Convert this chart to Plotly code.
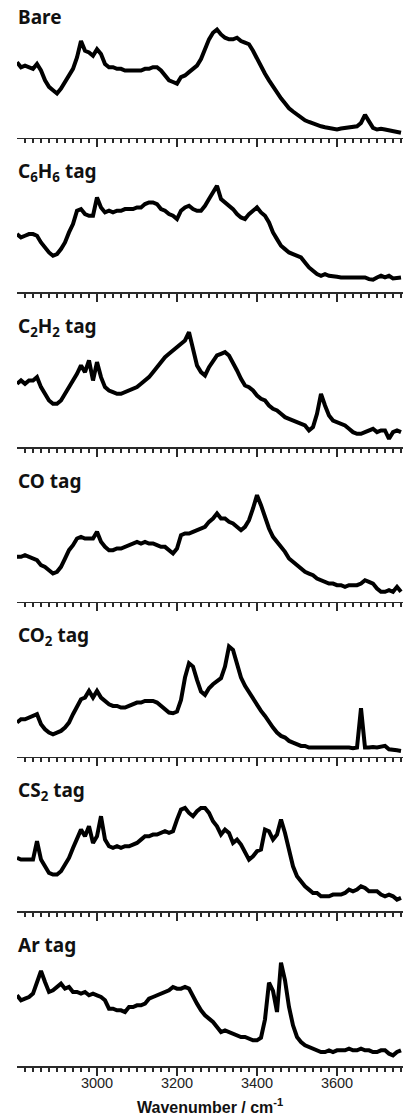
import plotly.graph_objects as go

# Wavenumber grid (cm^-1), 10 cm^-1 sampling
wavenumber = list(range(2800, 3761, 10))

# Intensities (arbitrary units, height above each panel's axis)
bare = [
    230, 215, 220, 215, 210, 225, 205, 175, 155, 145,
    135, 150, 170, 185, 210, 245, 295, 265, 260, 250,
    270, 255, 225, 215, 215, 210, 210, 205, 205, 205,
    205, 205, 210, 210, 215, 215, 205, 190, 175, 170,
    165, 185, 190, 200, 210, 220, 240, 270, 300, 320,
    330, 315, 305, 300, 300, 305, 295, 290, 285, 265,
    240, 215, 195, 175, 155, 135, 120, 105, 90, 80,
    70, 60, 53, 48, 43, 38, 35, 32, 30, 28,
    25, 28, 30, 32, 32, 35, 45, 70, 50, 30,
    25, 27, 25, 22, 18, 15, 15,
]
c6h6 = [
    175, 165, 170, 175, 175, 170, 150, 135, 120, 110,
    115, 130, 150, 180, 205, 245, 250, 235, 230, 230,
    285, 255, 240, 245, 240, 245, 245, 250, 250, 250,
    255, 255, 265, 270, 270, 265, 250, 245, 235, 230,
    220, 245, 255, 260, 250, 245, 245, 260, 280, 300,
    320, 280, 270, 260, 250, 235, 225, 220, 235, 245,
    255, 240, 230, 210, 180, 160, 140, 130, 120, 115,
    110, 105, 90, 75, 65, 55, 50, 55, 50, 50,
    47, 45, 45, 45, 45, 47, 45, 45, 40, 38,
    45, 50, 45, 50, 42, 45, 45,
]
c2h2 = [
    190, 200, 190, 200, 200, 210, 180, 160, 140, 130,
    130, 140, 160, 175, 195, 220, 245, 225, 260, 200,
    255, 210, 180, 170, 165, 160, 160, 165, 170, 175,
    180, 190, 200, 210, 225, 240, 255, 270, 280, 290,
    300, 310, 320, 345, 290, 245, 225, 215, 240, 260,
    275, 280, 285, 275, 255, 230, 205, 185, 180, 170,
    155, 145, 140, 125, 115, 110, 100, 90, 85, 80,
    75, 70, 65, 50, 60, 100, 160, 125, 95, 80,
    75, 70, 65, 55, 45, 40, 40, 45, 50, 55,
    45, 50, 50, 25, 45, 50, 45,
]
co = [
    135, 135, 140, 135, 130, 125, 110, 105, 95, 85,
    90, 105, 130, 155, 170, 190, 195, 190, 190, 190,
    210, 180, 165, 155, 155, 160, 160, 165, 170, 175,
    180, 175, 180, 175, 175, 170, 165, 165, 155, 145,
    160, 200, 205, 205, 210, 215, 220, 225, 240, 250,
    265, 250, 250, 240, 235, 225, 215, 225, 245, 280,
    320, 290, 250, 220, 195, 180, 165, 150, 130, 120,
    110, 100, 90, 85, 80, 70, 65, 60, 55, 55,
    50, 50, 45, 50, 50, 50, 55, 65, 60, 55,
    40, 30, 30, 35, 30, 45, 30,
]
co2 = [
    102, 112, 112, 117, 122, 127, 97, 82, 72, 67,
    72, 77, 87, 102, 127, 152, 172, 177, 197, 177,
    197, 177, 167, 157, 152, 152, 147, 147, 152, 157,
    162, 162, 167, 167, 167, 162, 152, 142, 132, 130,
    135, 170, 237, 280, 270, 230, 195, 185, 205, 217,
    225, 235, 270, 330, 320, 280, 237, 212, 192, 177,
    157, 137, 122, 102, 87, 72, 62, 57, 47, 42,
    37, 32, 32, 27, 27, 27, 27, 27, 27, 29,
    27, 27, 29, 27, 25, 27, 145, 27, 27, 29,
    27, 29, 32, 22, 22, 19, 17,
]
cs2 = [
    160, 155, 155, 155, 155, 210, 155, 135, 115, 110,
    110, 120, 140, 160, 190, 215, 245, 225, 255, 205,
    225, 285, 215, 195, 190, 195, 190, 195, 195, 200,
    205, 215, 225, 225, 230, 230, 235, 240, 235, 240,
    275, 305, 310, 295, 285, 300, 310, 310, 295, 270,
    255, 230, 245, 235, 205, 215, 200, 180, 155, 165,
    180, 185, 245, 240, 215, 230, 275, 235, 185, 135,
    105, 90, 75, 65, 55, 55, 45, 45, 45, 50,
    50, 50, 55, 65, 60, 65, 75, 70, 60, 60,
    60, 50, 45, 50, 45, 35, 40,
]
ar = [
    212, 197, 202, 207, 217, 247, 285, 252, 222, 227,
    237, 247, 232, 237, 222, 222, 217, 222, 212, 217,
    212, 207, 197, 172, 172, 167, 167, 162, 177, 177,
    182, 182, 187, 202, 207, 212, 217, 222, 227, 237,
    232, 232, 237, 232, 207, 187, 167, 152, 142, 132,
    117, 102, 107, 102, 97, 92, 87, 87, 82, 77,
    77, 85, 140, 250, 225, 162, 310, 257, 177, 122,
    87, 72, 62, 57, 52, 47, 42, 42, 47, 42,
    47, 47, 47, 52, 47, 47, 52, 47, 47, 42,
    42, 47, 47, 37, 32, 42, 47,
]

labels = [
    "Bare",
    "C<sub>6</sub>H<sub>6</sub> tag",
    "C<sub>2</sub>H<sub>2</sub> tag",
    "CO tag",
    "CO<sub>2</sub> tag",
    "CS<sub>2</sub> tag",
    "Ar tag",
]
series = [bare, c6h6, c2h2, co, co2, cs2, ar]

label_ticks = [3000, 3200, 3400, 3600]
label_text = ["3000", "3200", "3400", "3600"]
mid_ticks = [2900, 3100, 3300, 3500, 3700]
minor_ticks = [v for v in range(2820, 3761, 20) if v % 200 != 0]

for s in series:
    assert len(s) == len(wavenumber), len(s)

W, H = 408, 1117
ML, MR, MT = 17, 5, 0
first_axis_px = 137.7
last_axis_px = 1065.7
PH = last_axis_px                # plot area height (bottom panel axis at paper y=0)
MB = H - MT - PH
step_px = (last_axis_px - first_axis_px) / 6
panel_h_px = 140

axis_col = "#2a2a2a"
tick_font = dict(family="Liberation Sans, Arial", size=14.5, color="#222")

fig = go.Figure()
layout = dict(
    width=W, height=H,
    margin=dict(l=ML, r=MR, t=MT, b=MB, autoexpand=False),
    paper_bgcolor="white", plot_bgcolor="white",
    showlegend=False,
)
annotations = []
n_pan = len(series)
for i, (lab, ys) in enumerate(zip(labels, series)):
    n = "" if i == 0 else str(i + 1)
    axis_px = first_axis_px + i * step_px
    bottom = max(0.0, (PH - axis_px) / PH)
    top = bottom + panel_h_px / PH
    fig.add_trace(go.Scatter(
        x=wavenumber, y=ys, mode="lines",
        line=dict(color="black", width=4),
        xaxis="x" + n, yaxis="y" + n, hoverinfo="skip",
    ))
    last = (i == n_pan - 1)
    layout["xaxis" + n] = dict(
        domain=[0, 1], anchor="y" + n, range=[2800, 3765],
        showline=True, linecolor=axis_col, linewidth=1.6,
        showgrid=False, zeroline=False,
        ticks="outside", tickmode="array", tickvals=label_ticks, ticktext=label_text,
        ticklen=8, tickwidth=1.4, tickcolor=axis_col,
        showticklabels=last, tickfont=tick_font, ticklabelstandoff=-5,
        minor=dict(tickmode="array", tickvals=minor_ticks, ticks="outside",
                   ticklen=4, tickwidth=1.2, tickcolor=axis_col, showgrid=False),
    )
    # overlay axis carrying the medium-length ticks at odd hundreds
    k = n_pan + i + 1
    layout["xaxis%d" % k] = dict(
        domain=[0, 1], anchor="y" + n, overlaying="x" + n, side="bottom",
        range=[2800, 3765], showline=False, showgrid=False, zeroline=False,
        ticks="outside", tickmode="array", tickvals=mid_ticks,
        ticklen=6, tickwidth=1.3, tickcolor=axis_col, showticklabels=False,
    )
    layout["yaxis" + n] = dict(
        domain=[bottom, min(1.0, top)], anchor="x" + n, range=[0, 420], visible=False,
    )
    label_top_px = axis_px - 135.2
    annotations.append(dict(
        text="<b>" + lab + "</b>", xref="paper", yref="paper",
        x=0, y=(PH - label_top_px) / PH, xanchor="left", yanchor="top",
        showarrow=False, borderpad=0,
        font=dict(family="Noto Sans", size=19, color="#111"),
    ))

title_box_bottom = 1116.8
annotations.append(dict(
    text="<b>Wavenumber / cm<sup>-1</sup></b>", xref="paper", yref="paper",
    x=0.5, y=(PH - title_box_bottom) / PH, xanchor="center", yanchor="bottom",
    showarrow=False, borderpad=0,
    font=dict(family="Liberation Sans, Arial", size=16, color="#111"),
))
layout["annotations"] = annotations
fig.update_layout(**layout)
# remove the default 8px page margin so the figure fills the window exactly
fig.write_html("out.html",
               config={"displayModeBar": False, "staticPlot": True},
               post_script="document.body.style.margin='0px';document.body.style.padding='0px';")
